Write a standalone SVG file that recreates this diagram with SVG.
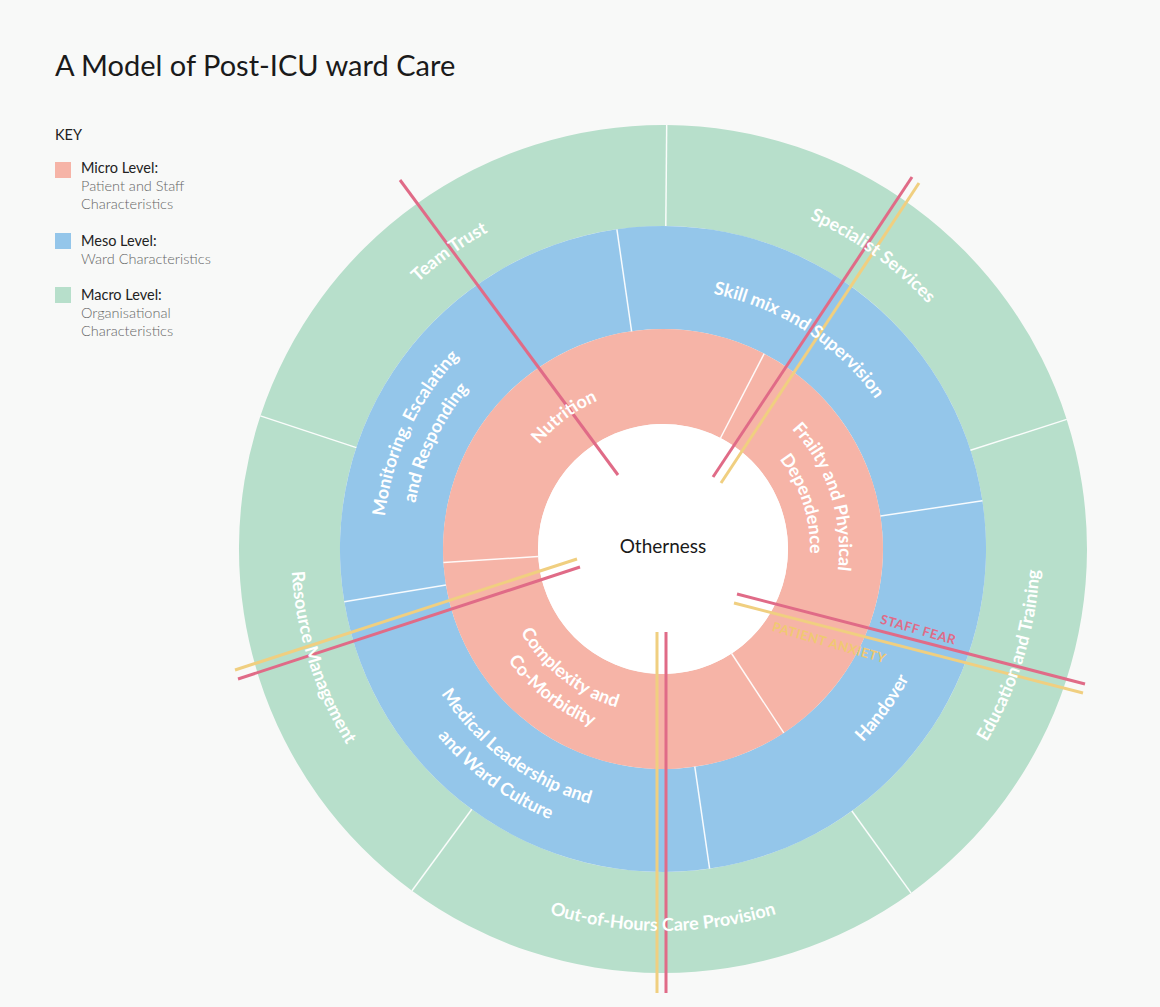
<svg xmlns="http://www.w3.org/2000/svg" width="1160" height="1007" viewBox="0 0 1160 1007">
<style>
.micro{fill:#f6b4a7}
.meso{fill:#94c6ea}
.macro{fill:#b7dfcb}
.div{stroke:#ffffff;stroke-width:1.5;stroke-opacity:0.9;fill:none}
.lbl{font-family:Lato,"Liberation Sans",sans-serif;font-weight:700;font-size:18px;fill:#ffffff}
.red{stroke:#e06b87;stroke-width:3;fill:none}
.yel{stroke:#f0cf80;stroke-width:3;fill:none}
.title{font-family:Lato,"Liberation Sans",sans-serif;font-size:29px;fill:#1a1a1a}
.key{font-family:Lato,"Liberation Sans",sans-serif;font-size:14.5px;fill:#222}
.keyd{font-family:Lato,"Liberation Sans",sans-serif;font-size:14.5px;fill:#666;font-weight:300}
.tag{font-family:Lato,"Liberation Sans",sans-serif;font-weight:700;font-size:13px}
</style>
<defs>
<path id="pTeam" d="M302.8,585.0 A362,362 0 0 1 812.0,219.1"/>
<path id="pSpec" d="M513.9,220.2 A361,361 0 0 1 1022.3,584.2"/>
<path id="pEdu" d="M747.8,916.3 A377,377 0 0 0 938.7,291.9"/>
<path id="pOoh" d="M332.2,740.0 A382,382 0 0 0 993.8,740.0"/>
<path id="pRes" d="M388.3,298.2 A372,372 0 0 0 583.1,912.3"/>
<path id="pSkill" d="M545.0,317.3 A260,260 0 0 1 922.6,562.6"/>
<path id="pHand" d="M634.4,825.5 A278,278 0 0 0 916.8,435.5"/>
<path id="pMon1" d="M433.6,709.6 A280,280 0 0 1 638.6,270.1"/>
<path id="pMon2" d="M456.6,693.5 A252,252 0 0 1 641.0,298.0"/>
<path id="pMed1" d="M399.7,519.0 A265,265 0 0 0 768.7,792.0"/>
<path id="pMed2" d="M371.9,515.8 A293,293 0 0 0 779.8,817.7"/>
<path id="pFra1" d="M699.6,376.8 A176,176 0 0 1 793.8,666.8"/>
<path id="pFra2" d="M693.6,405.2 A147,147 0 0 1 772.2,647.4"/>
<path id="pCom1" d="M499.6,526.0 A165,165 0 0 0 724.8,702.0"/>
<path id="pCom2" d="M473.9,522.4 A191,191 0 0 0 734.6,726.1"/>
<path id="pNut" d="M502.1,568.2 A162,162 0 0 1 726.8,400.1"/>
</defs>
<rect width="1160" height="1007" fill="#f8f9f8"/>

<g id="title"><text class="title" x="55" y="76">A Model of Post-ICU ward Care</text></g>

<g id="legend">
<text class="key" x="55" y="140">KEY</text>
<rect class="micro" x="55" y="162" width="16" height="16"/>
<text class="key" x="81" y="173">Micro Level:</text>
<text class="keyd" x="81" y="191">Patient and Staff</text>
<text class="keyd" x="81" y="209">Characteristics</text>
<rect class="meso" x="55" y="233" width="16" height="16"/>
<text class="key" x="81" y="246">Meso Level:</text>
<text class="keyd" x="81" y="264">Ward Characteristics</text>
<rect class="macro" x="55" y="287" width="16" height="16"/>
<text class="key" x="81" y="300">Macro Level:</text>
<text class="keyd" x="81" y="318">Organisational</text>
<text class="keyd" x="81" y="336">Characteristics</text>
</g>

<g id="macro-specialist-services"><path class="macro" d="M666.7,125.0 A424,424 0 0 1 1066.7,419.4 L970.5,450.3 A323,323 0 0 0 665.8,226.0 Z"/></g>
<g id="macro-education-training"><path class="macro" d="M1066.7,419.4 A424,424 0 0 1 911.0,892.9 L851.9,811.0 A323,323 0 0 0 970.5,450.3 Z"/></g>
<g id="macro-out-of-hours"><path class="macro" d="M911.0,892.9 A424,424 0 0 1 412.0,890.7 L471.8,809.3 A323,323 0 0 0 851.9,811.0 Z"/></g>
<g id="macro-resource-management"><path class="macro" d="M412.0,890.7 A424,424 0 0 1 260.4,415.9 L356.3,447.6 A323,323 0 0 0 471.8,809.3 Z"/></g>
<g id="macro-team-trust"><path class="macro" d="M260.4,415.9 A424,424 0 0 1 666.7,125.0 L665.8,226.0 A323,323 0 0 0 356.3,447.6 Z"/></g>

<g id="meso-skill-mix"><path class="meso" d="M616.9,229.3 A323,323 0 0 1 982.4,500.7 L880.5,516.1 A220,220 0 0 0 631.6,331.3 Z"/></g>
<g id="meso-handover"><path class="meso" d="M982.4,500.7 A323,323 0 0 1 709.6,868.6 L694.8,766.7 A220,220 0 0 0 880.5,516.1 Z"/></g>
<g id="meso-medical-leadership"><path class="meso" d="M709.6,868.6 A323,323 0 0 1 344.3,601.8 L446.0,584.9 A220,220 0 0 0 694.8,766.7 Z"/></g>
<g id="meso-monitoring"><path class="meso" d="M344.3,601.8 A323,323 0 0 1 616.9,229.3 L631.6,331.3 A220,220 0 0 0 446.0,584.9 Z"/></g>

<g id="micro-frailty"><path class="micro" d="M764.2,353.7 A220,220 0 0 1 783.8,732.9 L731.6,653.5 A125,125 0 0 0 720.5,438.0 Z"/></g>
<g id="micro-complexity"><path class="micro" d="M783.8,732.9 A220,220 0 0 1 443.4,562.4 L538.2,556.6 A125,125 0 0 0 731.6,653.5 Z"/></g>
<g id="micro-nutrition"><path class="micro" d="M443.4,562.4 A220,220 0 0 1 764.2,353.7 L720.5,438.0 A125,125 0 0 0 538.2,556.6 Z"/></g>

<g id="otherness"><circle cx="663" cy="549" r="125" fill="#ffffff"/>
<text x="663" y="553" text-anchor="middle" font-family="Lato,'Liberation Sans',sans-serif" font-size="19" fill="#1a1a1a">Otherness</text></g>

<g id="dividers">
<line class="div" x1="665.8" y1="226.0" x2="666.7" y2="125.0"/>
<line class="div" x1="970.5" y1="450.3" x2="1066.7" y2="419.4"/>
<line class="div" x1="851.9" y1="811.0" x2="911.0" y2="892.9"/>
<line class="div" x1="471.8" y1="809.3" x2="412.0" y2="890.7"/>
<line class="div" x1="356.3" y1="447.6" x2="260.4" y2="415.9"/>
<line class="div" x1="631.6" y1="331.3" x2="616.9" y2="229.3"/>
<line class="div" x1="880.5" y1="516.1" x2="982.4" y2="500.7"/>
<line class="div" x1="694.8" y1="766.7" x2="709.6" y2="868.6"/>
<line class="div" x1="446.0" y1="584.9" x2="344.3" y2="601.8"/>
<line class="div" x1="720.5" y1="438.0" x2="764.2" y2="353.7"/>
<line class="div" x1="731.6" y1="653.5" x2="783.8" y2="732.9"/>
<line class="div" x1="538.2" y1="556.6" x2="443.4" y2="562.4"/>
</g>

<g id="connectors">
<line class="red" x1="400" y1="180" x2="618" y2="475"/>
<line class="red" x1="912" y1="177" x2="713" y2="477"/>
<line class="yel" x1="919" y1="183" x2="721" y2="483"/>
<line class="yel" x1="235" y1="670" x2="577" y2="559"/>
<line class="red" x1="238" y1="679" x2="580" y2="567"/>
<line class="yel" x1="657" y1="632" x2="657" y2="993"/>
<line class="red" x1="666" y1="632" x2="666" y2="993"/>
<line class="red" x1="737" y1="594" x2="1085" y2="684"/>
<line class="yel" x1="734" y1="603" x2="1083" y2="693"/>
<text class="tag" fill="#e06b87" transform="translate(917,634) rotate(16)" text-anchor="middle" letter-spacing="0.5">STAFF FEAR</text>
<text class="tag" fill="#f0c972" transform="translate(828,647) rotate(16)" text-anchor="middle" letter-spacing="0.5">PATIENT ANXIETY</text>
</g>

<g id="labels">
<text class="lbl" text-anchor="middle"><textPath href="#pTeam" startOffset="50%">Team Trust</textPath></text>
<text class="lbl" text-anchor="middle"><textPath href="#pSpec" startOffset="50%">Specialist Services</textPath></text>
<text class="lbl" text-anchor="middle"><textPath href="#pEdu" startOffset="50%">Education and Training</textPath></text>
<text class="lbl" text-anchor="middle"><textPath href="#pOoh" startOffset="50%">Out-of-Hours Care Provision</textPath></text>
<text class="lbl" text-anchor="middle"><textPath href="#pRes" startOffset="50%">Resource Management</textPath></text>
<text class="lbl" text-anchor="middle"><textPath href="#pSkill" startOffset="50%">Skill mix and Supervision</textPath></text>
<text class="lbl" text-anchor="middle"><textPath href="#pHand" startOffset="50%">Handover</textPath></text>
<text class="lbl" text-anchor="middle"><textPath href="#pMon1" startOffset="50%">Monitoring, Escalating</textPath><textPath href="#pMon2" startOffset="50%">and Responding</textPath></text>
<text class="lbl" text-anchor="middle"><textPath href="#pMed1" startOffset="50%">Medical Leadership and</textPath><textPath href="#pMed2" startOffset="50%">and Ward Culture</textPath></text>
<text class="lbl" text-anchor="middle"><textPath href="#pFra1" startOffset="50%">Frailty and Physical</textPath><textPath href="#pFra2" startOffset="50%">Dependence</textPath></text>
<text class="lbl" text-anchor="middle"><textPath href="#pCom1" startOffset="50%">Complexity and</textPath><textPath href="#pCom2" startOffset="50%">Co-Morbidity</textPath></text>
<text class="lbl" text-anchor="middle"><textPath href="#pNut" startOffset="50%">Nutrition</textPath></text>
</g>
</svg>
